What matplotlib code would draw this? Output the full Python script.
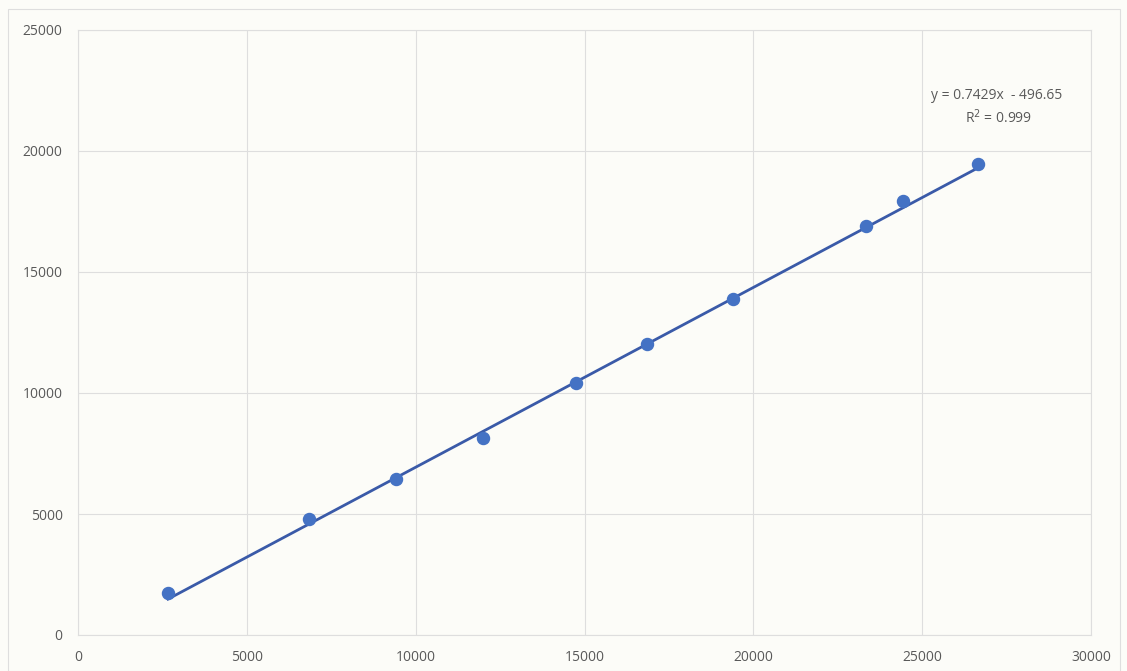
import numpy as np
import matplotlib as mpl
mpl.use('Agg')
import matplotlib.pyplot as plt

# measured standards: x = peak area, y = concentration
x_vals = [2665, 6840, 9420, 11990, 14750, 16850, 19400, 23335, 24430, 26650]
y_vals = [1740, 4790, 6450, 8140, 10410, 12030, 13880, 16900, 17930, 19460]

slope = 0.7429
intercept = -496.65
r2 = 0.999

x_ticks = [0, 5000, 10000, 15000, 20000, 25000, 30000]
y_ticks = [0, 5000, 10000, 15000, 20000, 25000]

plt.rc('font', family=['Open Sans', 'DejaVu Sans'])

bg = '#fcfcf8'
fig = plt.figure(figsize=(11.27, 6.71), dpi=100, facecolor=bg)
ax = fig.add_axes([78 / 1127, 36 / 671, 1013 / 1127, 605 / 671])
ax.set_facecolor(bg)

# chart frame
fig.add_artist(plt.Rectangle((8 / 1127, 0), 1112 / 1127, 662 / 671,
                             transform=fig.transFigure, fill=False,
                             edgecolor='#dedede', linewidth=0.8))

ax.set_xlim(0, 30000)
ax.set_ylim(0, 25000)
ax.set_xticks(x_ticks)
ax.set_yticks(y_ticks)
ax.grid(True, color='#dedede', linewidth=0.8)
ax.set_axisbelow(True)
for s in ax.spines.values():
    s.set_color('#dedede')
    s.set_linewidth(0.8)
ax.tick_params(length=0, colors='#595959', labelsize=10, pad=11)

# linear trendline
xs = np.array([min(x_vals), max(x_vals)])
ax.plot(xs, slope * xs + intercept, color='#3a5aa8', linewidth=2.0, zorder=2)
ax.scatter(x_vals, y_vals, s=75, color='#4472c4', zorder=3)

ax.text(0.907, 0.891, 'y = %.4fx  - %.2f' % (slope, -intercept),
        transform=ax.transAxes, ha='center', va='center',
        fontsize=10, color='#595959')
ax.text(0.909, 0.855, 'R$^2$ = %.3f' % r2,
        transform=ax.transAxes, ha='center', va='center',
        fontsize=10, color='#595959')

plt.savefig('out.png', dpi=100, facecolor=bg)
